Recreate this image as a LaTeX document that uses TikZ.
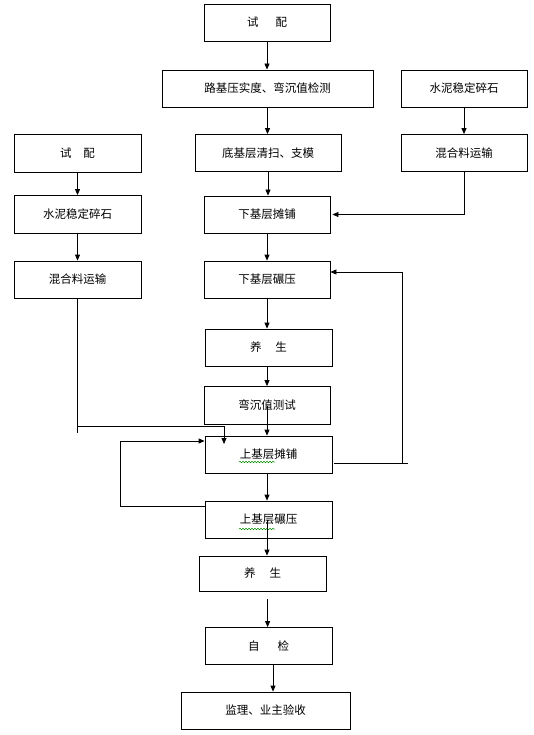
\documentclass[tikz,border=0pt]{standalone}
\usepackage{fontspec}
\setmainfont{Noto Sans CJK SC}
\usetikzlibrary{arrows.meta,decorations.pathmorphing}
\begin{document}
\begin{tikzpicture}[x=1pt,y=-1pt,
  box/.style={draw,line width=0.8pt,minimum height=37pt,inner sep=0pt,font=\fontsize{11.5}{13}\selectfont},
  arr/.style={line width=0.8pt,-{Triangle[length=6pt,width=5pt]}},
  ln/.style={line width=0.8pt},
  wavy/.style={draw=green!55!black,line width=0.5pt,decorate,decoration={snake,amplitude=0.8pt,segment length=3pt}}]
\fill[white] (0,0) rectangle (533,735);
\useasboundingbox (0,0) rectangle (533,735);
% centre column
\node[box,minimum width=126pt] (t1) at (267,22.5) {试\hspace{17pt}配};
\node[box,minimum width=211pt] (jc) at (267.5,88.5) {路基压实度、弯沉值检测};
\node[box,minimum width=146pt] (dj) at (268,153) {底基层清扫、支模};
\node[box,minimum width=126pt] (xt) at (267,214.5) {下基层摊铺};
\node[box,minimum width=126pt] (xn) at (267,279.5) {下基层碾压};
\node[box,minimum width=127pt] (ys1) at (268.5,347.5) {养\hspace{14pt}生};
\node[box,minimum width=126pt,minimum height=38pt] (wc) at (267,405.5) {弯沉值测试};
\node[box,minimum width=127pt] (st) at (268.5,454.5) {上基层摊铺};
\node[box,minimum width=127pt] (sn) at (268.5,519.5) {上基层碾压};
\node[box,minimum width=127pt,minimum height=35pt] (ys2) at (262.5,573.5) {养\hspace{14pt}生};
\node[box,minimum width=127pt] (zj) at (268.5,646) {自\hspace{18pt}检};
\node[box,minimum width=169pt] (jl) at (265.5,710.5) {监理、业主验收};
% right column
\node[box,minimum width=126pt] (rs) at (464,88.5) {水泥稳定碎石};
\node[box,minimum width=126pt] (rh) at (464,153) {混合料运输};
% left column
\node[box,minimum width=127pt,minimum height=38pt] (lt) at (77.5,153) {试\hspace{12pt}配};
\node[box,minimum width=127pt,minimum height=38pt] (ls) at (77.5,214.5) {水泥稳定碎石};
\node[box,minimum width=127pt] (lh) at (77.5,279.5) {混合料运输};
% spell-check underlines
\draw[wavy] (239,462) -- (275,462);
\draw[wavy] (239,529) -- (275,529);
% coordinates
\coordinate (l1) at (78,433);
\coordinate (l2) at (78,426);
\coordinate (l3) at (224,444);
\coordinate (f1) at (120,506.5);
\coordinate (f2) at (120,441);
\coordinate (r1) at (334,463);
\coordinate (r2) at (408,463);
\coordinate (r3) at (402,463);
\coordinate (r4) at (402,272);
\coordinate (g1) at (267.6,599);
% centre arrows
\draw[arr] (t1.south) -- (t1.south |- jc.north);
\draw[arr] (jc.south) -- (jc.south |- dj.north);
\draw[arr] (dj.south) -- (dj.south |- xt.north);
\draw[arr] (xt.south) -- (xt.south |- xn.north);
\draw[arr] (xn.south) -- (xn.south |- ys1.north);
\draw[arr] (ys1.south -| xn.south) -- (xn.south |- wc.north);
\draw[arr] (wc.center) -- (wc.center |- st.north);
\draw[arr] (st.south -| wc.center) -- (wc.center |- sn.north);
\draw[arr] (sn.center -| wc.center) -- (wc.center |- ys2.north);
\draw[arr] (g1) -- (g1 |- zj.north);
\draw[arr] ([xshift=4.5pt]zj.south) -- ([xshift=4.5pt]zj.south |- jl.north);
% right arrows
\draw[arr] (rs.south) -- (rh.north);
\draw[arr] (rh.south) |- ([xshift=2pt]xt.east);
% left arrows
\draw[arr] (lt.south) -- (ls.north);
\draw[arr] (ls.south) -- (lh.north);
\draw[ln] (lh.south) -- (lh.south |- l1);
\draw[arr] (lh.south |- l2) -| (l3);
% feedback loops
\draw[arr] (sn.west |- f1) -- (f1) -- (f2) -- (st.west |- f2);
\draw[ln] (r1) -- (r2);
\draw[arr] (r3) -- (r4) -- (xn.east |- r4);
\end{tikzpicture}
\end{document}
